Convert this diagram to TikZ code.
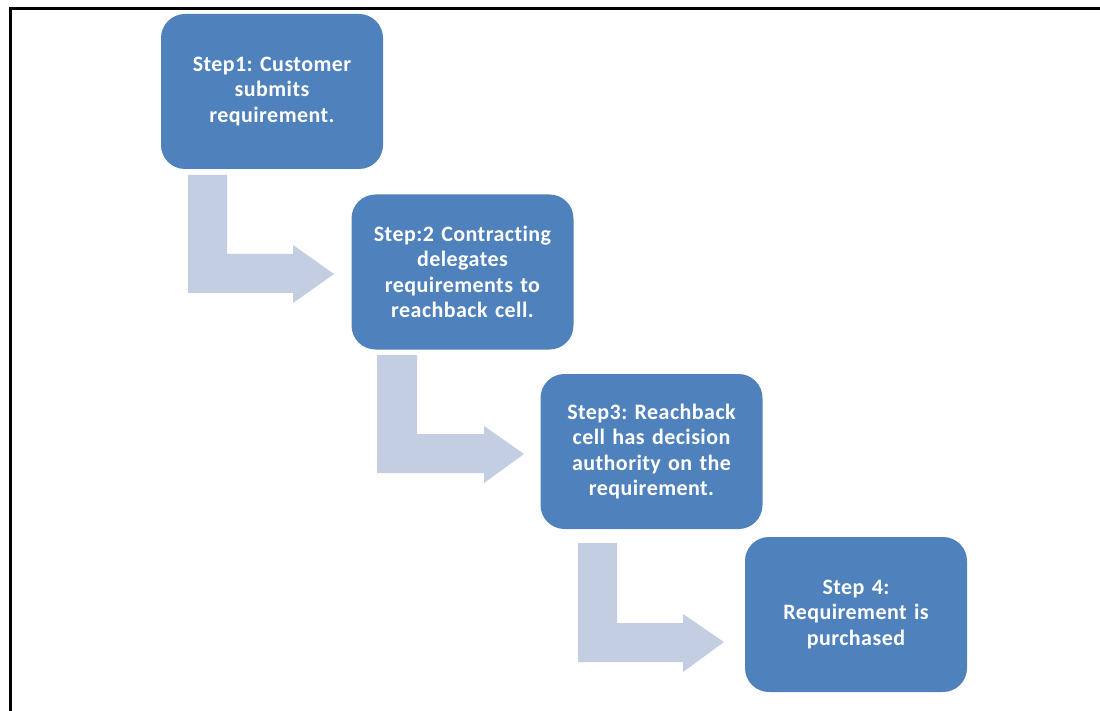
\documentclass[tikz,border=0pt]{standalone}
\usepackage{fontspec}
\setmainfont{Carlito}[Ligatures=NoCommon, LetterSpace=2]
\frenchspacing
\definecolor{boxblue}{RGB}{79,129,189}
\definecolor{arrowblue}{RGB}{195,206,227}
\begin{document}
\begin{tikzpicture}[x=1pt,y=-1pt,
  stepbox/.style={rectangle, rounded corners=24pt, fill=boxblue, draw=none,
    minimum width=222pt, minimum height=155pt, text width=210pt, align=center,
    text=white, font=\fontsize{22}{25.5}\selectfont\bfseries, inner sep=0pt},
  bentarrow/.style={fill=arrowblue, draw=none}]
\useasboundingbox (0,0) rectangle (1100,711);
\fill[white] (0,0) rectangle (1100,711);
\draw[line width=3.5pt] (10.5,711) -- (10.5,8.5) -- (1100,8.5);

\node[stepbox] (s1) at (272,91.5) {Step1: Customer\\submits\\requirement.};
\node[stepbox] (s2) at (462.5,272) {Step:2 Contracting\\delegates\\requirements to\\reachback cell.};
\node[stepbox] (s3) at (651.5,451.5) {Step3: Reachback\\cell has decision\\authority on the\\requirement.};
\node[stepbox] (s4) at (856,614.5) {Step 4:\\Requirement is\\purchased};

% bent arrows
\fill[bentarrow] (188,175) -- (227,175) -- (227,254) -- (293,254) -- (293,245)
  -- (334,274) -- (293,303) -- (293,293) -- (188,293) -- cycle;
\fill[bentarrow] (377,355) -- (417,355) -- (417,434) -- (484,434) -- (484,426)
  -- (524,454) -- (484,483) -- (484,473) -- (377,473) -- cycle;
\fill[bentarrow] (578,543) -- (617,543) -- (617,623) -- (683,623) -- (683,614)
  -- (724,642) -- (683,672) -- (683,662) -- (578,662) -- cycle;
\end{tikzpicture}
\end{document}
